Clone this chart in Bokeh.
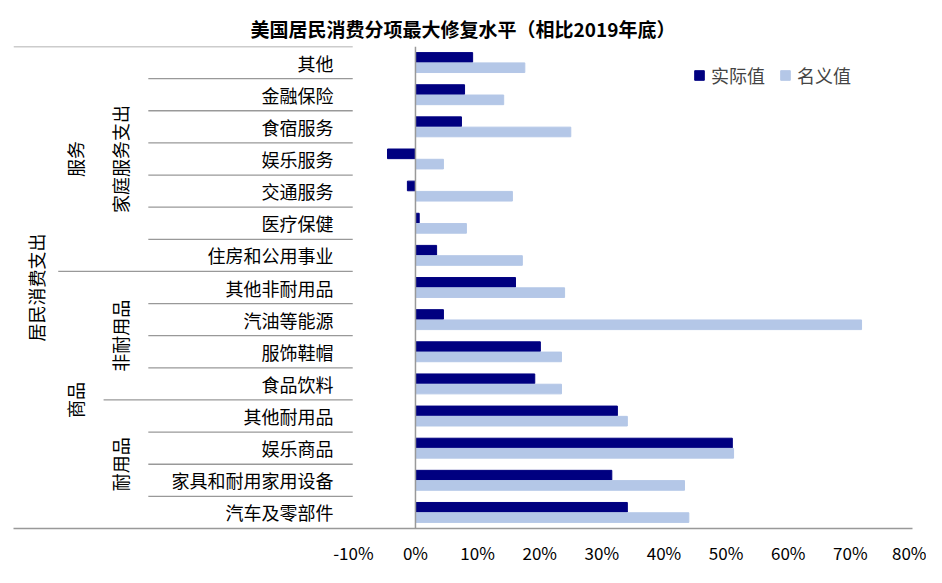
from bokeh.plotting import figure
from bokeh.models import FixedTicker, CustomJSTickFormatter, Legend, LegendItem, Title
from bokeh.core.properties import value
from bokeh.embed import file_html
from bokeh.resources import INLINE

categories = ["其他", "金融保险", "食宿服务", "娱乐服务", "交通服务", "医疗保健", "住房和公用事业",
              "其他非耐用品", "汽油等能源", "服饰鞋帽", "食品饮料",
              "其他耐用品", "娱乐商品", "家具和耐用家用设备", "汽车及零部件"]
real = [9.2, 7.9, 7.4, -4.5, -1.3, 0.6, 3.4, 16.1, 4.5, 20.1, 19.2, 32.5, 51.0, 31.6, 34.1]
nominal = [17.6, 14.2, 25.0, 4.5, 15.6, 8.2, 17.2, 24.0, 71.8, 23.5, 23.5, 34.1, 51.2, 43.3, 44.0]
ticks = [-10, 0, 10, 20, 30, 40, 50, 60, 70, 80]

FONT = "Noto Sans CJK SC"
n = len(categories)
yc = [n - 0.5 - i for i in range(n)]

p = figure(width=926, height=567, x_range=(-64.7, 80.0), y_range=(0, 15),
           output_backend="svg", toolbar_location=None,
           min_border_left=13, min_border_right=14, min_border_top=46, min_border_bottom=31)
p.title = Title(text="美国居民消费分项最大修复水平（相比2019年底）", align="center",
                text_font=FONT, text_font_size="19px", text_font_style="bold", text_color="#000000")
p.outline_line_color = None
p.grid.visible = False
p.yaxis.visible = False
p.xaxis.ticker = FixedTicker(ticks=ticks)
p.xaxis.formatter = CustomJSTickFormatter(code="return tick + '%';")
p.xaxis.major_label_text_font = FONT
p.xaxis.major_label_text_font_size = "17px"
p.xaxis.major_label_text_color = "#000000"
p.xaxis.major_tick_line_color = None
p.xaxis.minor_tick_line_color = None
p.xaxis.axis_line_color = "#999999"
p.xaxis.axis_line_width = 1.5

r1 = p.hbar(y=[y + 0.16 for y in yc], right=real, left=0, height=0.3, color="#000080")
r2 = p.hbar(y=[y - 0.16 for y in yc], right=nominal, left=0, height=0.3, color="#B4C7E7")

p.segment(x0=[0], y0=[0], x1=[0], y1=[15], line_color="#999999", line_width=1.5)

x0s, y0s, x1s, y1s = [], [], [], []
for k in range(1, 15):
    if k == 8:
        xs = -57.5
    elif k == 4:
        xs = -50.2
    else:
        xs = -43.0
    x0s.append(xs); y0s.append(k); x1s.append(-10.1); y1s.append(k)
x0s.append(-64.7); y0s.append(15); x1s.append(-10.1); y1s.append(15)
p.segment(x0=x0s, y0=y0s, x1=x1s, y1=y1s, line_color="#999999", line_width=1.3)

p.text(x=[-13.2] * n, y=yc, text=categories, text_align="right", text_baseline="middle",
       text_font=value(FONT), text_font_size="18px", text_color="#000000")

vt = ["居民消费支出", "服务", "商品", "家庭服务支出", "非耐用品", "耐用品"]
vx = [-61.0, -54.75, -54.75, -47.5, -47.5, -47.5]
vy = [7.5, 11.5, 4.0, 11.5, 6.0, 2.0]
p.text(x=vx, y=vy, text=vt, angle=1.5708, text_align="center", text_baseline="middle",
       text_font=value(FONT), text_font_size="18px", text_color="#000000")

legend = Legend(items=[LegendItem(label="实际值", renderers=[r1]), LegendItem(label="名义值", renderers=[r2])],
                orientation="horizontal", location=(680, 440), background_fill_alpha=0,
                border_line_color=None, label_text_font=FONT, label_text_font_size="18px",
                glyph_width=12, glyph_height=12, spacing=14, label_standoff=6)
p.add_layout(legend)

open("out.html", "w").write(file_html(p, INLINE))
